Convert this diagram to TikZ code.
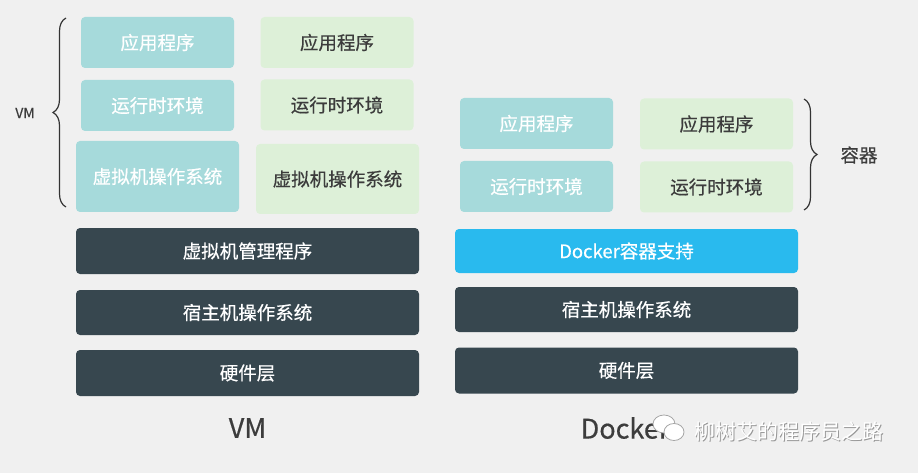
\documentclass[tikz,border=0pt]{standalone}
\usepackage{fontspec}
\setmainfont{Noto Sans CJK SC}[FakeBold=0.5]
\newfontfamily\plainfont{Noto Sans CJK SC}
\usetikzlibrary{decorations.pathreplacing}
\definecolor{bg}{HTML}{F0F0F0}
\definecolor{tealc}{HTML}{A6DADB}
\definecolor{greenc}{HTML}{DDF0D8}
\definecolor{darkc}{HTML}{37474F}
\definecolor{bluec}{HTML}{29BAEE}
\definecolor{txtdark}{HTML}{3C3C3C}
\definecolor{bracec}{HTML}{333333}
\tikzset{
  layer/.style={rounded corners=4pt, inner sep=0pt, font=\fontsize{18.5}{22}\selectfont},
  tealbox/.style={layer, fill=tealc, text=white},
  greenbox/.style={layer, fill=greenc, text=txtdark},
  darkbox/.style={layer, fill=darkc, text=white, minimum width=343pt, minimum height=46pt},
  bluebox/.style={layer, fill=bluec, text=white, minimum width=343pt, minimum height=44pt},
  small/.style={minimum width=153pt, minimum height=51pt},
  bracestyle/.style={draw=bracec, line width=1.2pt, decorate, decoration={brace, amplitude=13pt}},
}
\begin{document}
\begin{tikzpicture}[x=1pt,y=-1pt]
\fill[bg] (0,0) rectangle (918,473);
\useasboundingbox (0,0) rectangle (918,473);
% VM side
\node[tealbox, small] (va1) at (157.5,42.5) {应用程序};
\node[greenbox, small] (vb1) at (337,42.5) {应用程序};
\node[tealbox, small] (va2) at (157.5,105.5) {运行时环境};
\node[greenbox, small] (vb2) at (337,105) {运行时环境};
\node[tealbox, minimum width=163pt, minimum height=71pt] (va3) at (157.5,176.5) {虚拟机操作系统};
\node[greenbox, minimum width=163pt, minimum height=70pt] (vb3) at (337.5,179) {虚拟机操作系统};
\node[darkbox] (vh) at (247.5,251) {虚拟机管理程序};
\node[darkbox, minimum height=45pt] (vos) at (247.5,312.5) {宿主机操作系统};
\node[darkbox] (vhw) at (247.5,373) {硬件层};
\coordinate (vbt) at (66,18);
\coordinate (vbb) at (66,207);
\draw[bracestyle] (vbb) -- (vbt);
\node[font=\fontsize{14}{16}\selectfont, text=txtdark] (vmside) at (25,113) {VM};
\node[font=\fontsize{27}{30}\selectfont, text=txtdark] (vmlabel) at (247.5,428) {VM};
% Docker side
\node[tealbox, small] (da1) at (536.5,123.5) {应用程序};
\node[greenbox, small] (db1) at (716.5,124) {应用程序};
\node[tealbox, small] (da2) at (536.5,186.5) {运行时环境};
\node[greenbox, small] (db2) at (716.5,187) {运行时环境};
\node[bluebox] (dsup) at (626.5,251) {Docker容器支持};
\node[darkbox, minimum height=45pt] (dos) at (626.5,309.5) {宿主机操作系统};
\node[darkbox] (dhw) at (626.5,370.5) {硬件层};
\coordinate (dbt) at (804,99);
\coordinate (dbb) at (804,210);
\draw[bracestyle] (dbt) -- (dbb);
\node[font=\fontsize{18.5}{22}\selectfont, text=txtdark] (cont) at (859,155) {容器};
\node[font=\fontsize{27}{30}\selectfont, text=txtdark] (dklabel) at (625,428) {Docker};
% watermark
\begin{scope}[draw=gray!70, fill=white, line width=0.8pt]
\filldraw (664,424) ellipse (11pt and 9pt);
\filldraw (674,432) ellipse (10pt and 8.5pt);
\end{scope}
\node[font=\plainfont\fontsize{21}{24}\selectfont, text=gray!80] (wm0) at (789.8,432.8) {柳树艾的程序员之路};
\node[font=\plainfont\fontsize{21}{24}\selectfont, text=white] (wm) at (789,432) {柳树艾的程序员之路};
\end{tikzpicture}
\end{document}
